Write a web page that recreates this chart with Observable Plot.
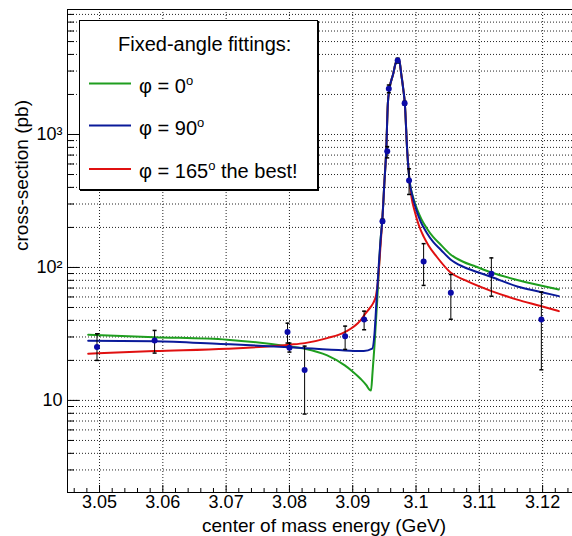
<!DOCTYPE html>
<html>
<head>
<meta charset="utf-8">
<script src="https://cdn.jsdelivr.net/npm/d3@7"></script>
<script src="https://cdn.jsdelivr.net/npm/@observablehq/plot@0.6"></script>
<style>
  html, body { margin: 0; padding: 0; background: #fff; }
  #wrap { position: relative; width: 572px; height: 536px; overflow: hidden; }
  #wrap svg { position: absolute; left: 0; top: 0; }
</style>
</head>
<body>
<div id="wrap"></div>
<script>
// ---------- axes ----------
const xDomain = [3.04494, 3.12472];
const yDomain = [2.03, 8710];
const xMajor = [3.05, 3.06, 3.07, 3.08, 3.09, 3.10, 3.11, 3.12];
const xMajorLabels = ["3.05", "3.06", "3.07", "3.08", "3.09", "3.1", "3.11", "3.12"];
const xMinor = [3.046, 3.048, 3.052, 3.054, 3.056, 3.058, 3.062, 3.064, 3.066, 3.068,
  3.072, 3.074, 3.076, 3.078, 3.082, 3.084, 3.086, 3.088, 3.092, 3.094, 3.096, 3.098,
  3.102, 3.104, 3.106, 3.108, 3.112, 3.114, 3.116, 3.118, 3.122, 3.124];
const yMajor = [10, 100, 1000];
const yMajorLabels = ["10", "10²", "10³"];
const yMinor = [3, 4, 5, 6, 7, 8, 9, 20, 30, 40, 50, 60, 70, 80, 90,
  200, 300, 400, 500, 600, 700, 800, 900, 2000, 3000, 4000, 5000, 6000, 7000, 8000];
const xTitle = "center of mass energy (GeV)";
const yTitle = "cross-section (pb)";

// ---------- measured points ----------
const ptX  = [3.0496, 3.0587, 3.0797, 3.0800, 3.0824, 3.0888, 3.0918, 3.0947, 3.09545, 3.0957, 3.0971, 3.0982, 3.0989, 3.1012, 3.1055, 3.1119, 3.1198];
const ptY  = [25.2, 28.2, 32.7, 24.9, 16.9, 30.4, 40.6, 222.8, 748, 2208, 3597, 1718, 451, 111, 64.5, 89.8, 40.6];
const ptLo = [20.0, 22.7, 27.0, 23.1, 7.9, 24.2, 34.0, 215, 667, 2060, 3450, 1660, 354, 73.3, 40.8, 60.8, 17.0];
const ptHi = [31.7, 33.6, 38.1, 27.0, 25.6, 36.2, 46.9, 231, 811, 2355, 3750, 1780, 552, 151, 88.5, 118, 65.2];

// ---------- fitted curves ----------
const peakX = [3.09466, 3.09502, 3.09529, 3.09555, 3.09581, 3.0964, 3.09676, 3.09713, 3.09739, 3.09766, 3.09798, 3.09823, 3.09861, 3.09897];
const peakY = [222.9, 450.9, 748.6, 1719, 2206, 2860, 3418, 3645, 3539, 2860, 2206, 1719, 748.6, 450.9];

const greenLeftX = [3.04821, 3.05869, 3.07017, 3.07997, 3.08243, 3.08597, 3.08875, 3.08997, 3.09123, 3.09218, 3.09265, 3.09289, 3.09313, 3.09344, 3.09387, 3.09412, 3.09439];
const greenLeftY = [31.19, 29.91, 28.60, 25.47, 24.47, 21.79, 18.33, 16.52, 14.56, 12.96, 12.03, 11.89, 16.24, 25.92, 56.48, 94.9, 159.6];
const greenTailX = [3.0996, 3.10024, 3.10087, 3.10182, 3.10277, 3.10387, 3.10545, 3.10735, 3.1094, 3.11193, 3.11599, 3.11967, 3.12256];
const greenTailY = [330.2, 268.3, 229.6, 193.1, 168.1, 148.9, 125.3, 110.9, 101.7, 91.7, 80.54, 73.2, 68.33];

const blueLeftX = [3.04821, 3.05869, 3.06912, 3.07997, 3.08875, 3.09175, 3.09308, 3.09344, 3.09376, 3.09408, 3.09439];
const blueLeftY = [28.11, 27.91, 26.6, 25.16, 23.77, 23.49, 24.47, 31.73, 56.48, 98.3, 159.6];
const blueTailX = [3.09945, 3.10008, 3.10071, 3.10166, 3.10277, 3.10387, 3.10545, 3.10735, 3.1094, 3.11193, 3.11599, 3.11967, 3.12256];
const blueTailY = [341.8, 268.3, 221.8, 183.4, 154.2, 136.6, 114.9, 101.7, 93.3, 84.85, 71.96, 65.45, 60.85];

const redLeftX = [3.04821, 3.05869, 3.07017, 3.07997, 3.08243, 3.08597, 3.08875, 3.09123, 3.09202, 3.09281, 3.09329, 3.09368, 3.094, 3.09423, 3.09447];
const redLeftY = [22.44, 23.49, 24.47, 26.23, 26.97, 29.40, 32.63, 39.96, 45.1, 50.29, 54.6, 61.6, 79.88, 112.9, 165.2];
const redTailX = [3.09929, 3.09976, 3.1004, 3.10119, 3.10197, 3.10324, 3.10545, 3.10782, 3.11193, 3.11599, 3.11967, 3.12256];
const redTailY = [336.0, 268.3, 210.5, 171.1, 146.4, 120.9, 91.7, 79.9, 66.4, 57.3, 51.35, 46.93];

const seriesNames = ["φ = 0", "φ = 90", "φ = 165"];
const seriesColors = ["#1f9e1f", "#0a1a9a", "#e01010"];

// ---------- build tables ----------
const pts = ptX.map((x, i) => ({x, y: ptY[i], lo: ptLo[i], hi: ptHi[i]}));
function curve(lx, ly, tx, ty) {
  const xs = lx.concat(peakX, tx), ys = ly.concat(peakY, ty);
  return xs.map((x, i) => ({x, y: ys[i]}));
}
const green = curve(greenLeftX, greenLeftY, greenTailX, greenTailY);
const blue = curve(blueLeftX, blueLeftY, blueTailX, blueTailY);
const red = curve(redLeftX, redLeftY, redTailX, redTailY);

const W = 572, H = 536, mL = 67, mR = 0, mT = 9, mB = 44;
const fw = W - mL - mR, fh = H - mT - mB;
const capSymbol = { draw(ctx, size) { const r = Math.sqrt(size / Math.PI); ctx.moveTo(-r, 0); ctx.lineTo(r, 0); } };
const grid = {stroke: "#222", strokeOpacity: 1, strokeDasharray: "1,2", strokeWidth: 1};

const chart = Plot.plot({
  width: W, height: H,
  marginLeft: mL, marginRight: mR, marginTop: mT, marginBottom: mB,
  style: {fontFamily: "'Liberation Sans', Arial, Helvetica, sans-serif", fontSize: "18px", background: "#fff", color: "#000"},
  x: {domain: xDomain},
  y: {type: "log", domain: yDomain},
  marks: [
    Plot.ruleY(yMinor.concat(yMajor), {y: d => d, ...grid}),
    Plot.ruleX(xMajor, {x: d => d, ...grid}),
    Plot.tickY(yMajor, {y: d => d, stroke: "#000", insetRight: fw - 12}),
    Plot.tickY(yMinor, {y: d => d, stroke: "#000", insetRight: fw - 7}),
    Plot.tickX(xMajor, {x: d => d, stroke: "#000", insetTop: fh - 7}),
    Plot.tickX(xMinor, {x: d => d, stroke: "#000", insetTop: fh - 4}),
    Plot.ruleX([xDomain[0]], {stroke: "#000"}),
    Plot.ruleY([yDomain[0], yDomain[1]], {stroke: "#000"}),
    Plot.axisX(xMajor, {tickSize: 0, tickPadding: 3, fontSize: 18, label: null,
      tickFormat: d => xMajorLabels[xMajor.indexOf(d)]}),
    Plot.axisY(yMajor, {tickSize: 0, tickPadding: 5, fontSize: 18, label: null,
      tickFormat: d => yMajorLabels[yMajor.indexOf(d)]}),
    Plot.text([xTitle], {text: d => d, frameAnchor: "bottom", lineAnchor: "bottom", dy: 39, dx: 4, fontSize: 19}),
    Plot.text([yTitle], {text: d => d, frameAnchor: "left", rotate: -90, lineAnchor: "bottom", dx: -40, fontSize: 19}),
    Plot.line(green, {x: "x", y: "y", stroke: seriesColors[0], strokeWidth: 2, curve: "monotone-x"}),
    Plot.line(red, {x: "x", y: "y", stroke: seriesColors[2], strokeWidth: 2, curve: "monotone-x"}),
    Plot.line(blue, {x: "x", y: "y", stroke: seriesColors[1], strokeWidth: 2, curve: "monotone-x"}),
    Plot.ruleX(pts, {x: "x", y1: "lo", y2: "hi", stroke: "#000", strokeWidth: 1}),
    Plot.dot(pts, {x: "x", y: "hi", symbol: capSymbol, r: 2, stroke: "#000", fill: "none"}),
    Plot.dot(pts, {x: "x", y: "lo", symbol: capSymbol, r: 2, stroke: "#000", fill: "none"}),
    Plot.dot(pts, {x: "x", y: "y", r: 3, fill: "#0b0ba8", stroke: "none"})
  ]
});
const wrap = document.getElementById("wrap");
wrap.appendChild(chart);

// ---------- legend overlay ----------
const leg = d3.select(wrap).append("svg").attr("width", W).attr("height", H)
  .style("font-family", "'Liberation Sans', Arial, Helvetica, sans-serif");
leg.append("rect").attr("x", 79.5).attr("y", 20.5).attr("width", 238).attr("height", 169)
  .attr("fill", "#fff").attr("stroke", "#000").attr("stroke-width", 1);
leg.append("line").attr("x1", 80).attr("x2", 319).attr("y1", 190.5).attr("y2", 190.5).attr("stroke", "#000");
leg.append("line").attr("x1", 318.5).attr("x2", 318.5).attr("y1", 21).attr("y2", 191).attr("stroke", "#000");
leg.append("text").attr("x", 118).attr("y", 50.5).attr("font-size", 20).attr("fill", "#000").text("Fixed-angle fittings:");
const rowY = [83.5, 125.5, 169];
const suffix = ["", "", " the best!"];
seriesNames.forEach((name, i) => {
  leg.append("line").attr("x1", 89).attr("x2", 131).attr("y1", rowY[i]).attr("y2", rowY[i])
    .attr("stroke", seriesColors[i]).attr("stroke-width", 2);
  const t = leg.append("text").attr("x", 139).attr("y", rowY[i] + 9).attr("font-size", 20).attr("fill", "#000");
  t.append("tspan").text(name);
  t.append("tspan").attr("dy", -8).attr("font-size", 13).text("o");
  if (suffix[i]) t.append("tspan").attr("dy", 8).attr("font-size", 20).text(suffix[i]);
});
</script>
</body>
</html>
